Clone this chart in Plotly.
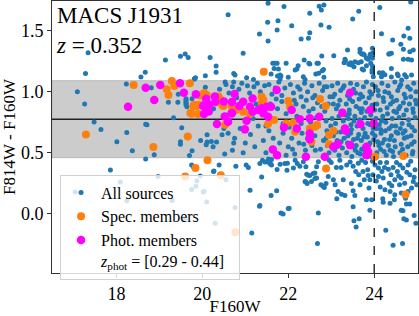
import plotly.graph_objects as go

# ---------------- data ----------------
blue_upper = [
    (20.60,1.63),(17.34,1.32),(19.14,1.26),(19.49,1.29),(19.60,1.31),(19.67,1.28),(20.18,1.28),
    (17.28,1.15),(18.67,1.16),(18.57,1.12),(20.32,1.21),(20.32,1.16),(20.07,1.13),(19.84,1.115),
    (20.73,1.15),(19.81,1.104),(20.95,1.315),(21.53,1.725),(21.90,1.697),(22.72,1.70),(22.83,1.71),
    (24.13,1.69),(24.85,1.735),(21.52,1.569),(21.76,1.582),(22.50,1.643),(22.77,1.67),(23.64,1.66),
    (23.50,1.596),(24.79,1.52),(21.33,1.473),(21.74,1.506),(21.53,1.416),(22.08,1.54),(22.50,1.484),
    (22.95,1.528),(22.76,1.547),(22.30,1.432),(22.47,1.437),(24.17,1.475),(24.69,1.457),(24.43,1.424),
    (24.83,1.437),(24.62,1.389),(21.64,1.233),(21.69,1.233),(21.74,1.233),(21.67,1.19),(21.77,1.186),
    (21.95,1.233),(21.81,1.137),(21.81,1.104),(22.0,1.118),(22.2,1.186),(22.23,1.213),(22.37,1.26),
    (22.5,1.227),(22.67,1.233),(22.64,1.145),(22.83,1.118),(22.82,1.183),(23.06,1.295),(23.33,1.254),
    (23.38,1.342),(23.41,1.225),(23.45,1.238),(23.53,1.205),(23.55,1.246),(23.67,1.323),(23.75,1.309),
    (23.70,1.246),(23.82,1.274),(23.91,1.307),(23.96,1.356),(23.72,1.186),(23.82,1.213),(23.92,1.233),
    (23.95,1.178),(23.95,1.159),(23.98,1.123),(24.12,1.156),(24.2,1.156),(24.17,1.123),(24.35,1.309),
    (24.40,1.315),(24.40,1.19),(24.68,1.266),(24.83,1.328),(24.91,1.342),(24.54,1.145),(24.64,1.096),
    (24.87,1.137),(22.78,1.293),(22.70,1.233),(22.79,1.172),(22.71,1.151),(22.48,1.233),(22.16,1.178),
    (22.35,1.123),(22.39,1.10),(21.60,1.145),(21.75,1.129),(21.83,1.129),(20.76,1.137),(21.03,1.115),
    (21.19,1.10),(23.63,1.238),(23.75,1.178),(23.47,1.219),(23.32,1.266),(23.30,1.238),(24.25,1.14),
    (24.40,1.12),(24.56,1.13),(24.71,1.14),(24.75,1.12),(24.79,1.266),(24.87,1.26),(24.34,1.309),
    (24.68,1.347),(23.96,1.315),(23.96,1.274),(23.96,1.21),(23.71,1.309),(23.77,1.30),(23.86,1.266),
    (23.90,1.293),(23.67,1.347),
]

blue_band_left = [
    (19.44,0.98),(19.62,0.93),(19.62,0.905),(19.64,0.877),(19.62,0.943),(19.62,0.916),(19.62,0.894),
    (19.76,0.943),(19.82,1.107),(20.07,1.036),(20.26,0.861),(20.53,1.08),(20.73,1.08),(20.50,0.70),
    (19.33,0.787),(19.52,0.705),(19.49,0.59),(19.49,0.571),(19.70,0.479),(19.64,0.634),(20.11,0.648),
    (20.46,0.648),(18.71,0.73),(18.68,0.733),(19.21,0.913),(18.81,1.033),(18.23,1.063),(19.43,0.913),
    (18.01,0.59),(18.37,0.516),(18.68,0.45),(18.88,0.484),(17.48,0.752),(17.64,0.69),(18.24,0.667),
    (17.09,1.0),(17.26,0.90),(19.96,0.60),(20.25,0.55),(20.40,1.02),
]

blue_band_right = [
    (20.55,1.06),(20.62,0.99),(20.70,1.04),(20.85,1.02),(20.92,1.07),(20.80,0.95),(21.05,1.05),
    (21.10,0.99),(21.20,1.04),(21.28,1.07),(21.35,1.00),(21.45,1.05),(20.60,0.66),(20.75,0.62),
    (20.88,0.70),(21.00,0.58),(21.12,0.65),(21.22,0.55),(21.30,0.72),(21.42,0.60),(21.48,0.50),
    (20.95,0.50),(21.18,0.78),(21.38,0.93),(20.70,0.52),(21.25,0.90),(21.48,0.72),
    (21.55,1.06),(21.62,0.98),(21.70,1.03),(21.78,1.08),(21.85,0.97),(21.92,1.03),(22.05,1.06),
    (22.12,0.99),(22.22,1.04),(22.30,0.96),(22.38,1.07),(22.45,1.00),(22.55,1.05),(22.62,0.97),
    (22.72,1.07),(22.80,1.01),(22.90,1.04),(22.97,0.96),(21.58,0.90),(21.75,0.86),(21.85,0.92),
    (22.18,0.90),(22.35,0.88),(22.42,0.93),(22.58,0.86),(22.68,0.91),(22.85,0.84),(22.93,0.90),
    (21.55,0.68),(21.65,0.62),(21.80,0.58),(21.88,0.66),(22.00,0.55),(22.08,0.62),(22.25,0.58),
    (22.32,0.66),(22.40,0.52),(22.55,0.56),(22.62,0.64),(22.75,0.53),(22.82,0.60),(22.90,0.68),
    (22.95,0.50),(21.70,0.50),(21.95,0.48),(22.15,0.49),(22.45,0.62),(22.70,0.72),(22.30,0.74),
    (21.62,0.78),(22.88,0.76),(22.20,0.80),(21.95,0.82),
    (23.02,1.05),(23.08,0.98),(23.15,1.07),(23.22,1.01),(23.30,1.05),(23.38,0.97),(23.45,1.07),
    (23.52,1.02),(23.60,1.06),(23.68,0.98),(23.75,1.04),(23.82,1.08),(23.90,1.00),(23.96,1.06),
    (23.05,0.90),(23.12,0.86),(23.20,0.93),(23.35,0.90),(23.42,0.85),(23.50,0.92),(23.58,0.88),
    (23.65,0.94),(23.72,0.86),(23.80,0.91),(23.88,0.95),(23.95,0.89),(23.02,0.78),(23.10,0.74),
    (23.18,0.80),(23.28,0.76),(23.32,0.70),(23.40,0.78),(23.46,0.73),(23.55,0.80),(23.60,0.72),
    (23.66,0.77),(23.74,0.70),(23.78,0.79),(23.85,0.74),(23.92,0.81),(23.98,0.70),(23.05,0.64),
    (23.14,0.60),(23.22,0.67),(23.30,0.62),(23.38,0.58),(23.45,0.66),(23.52,0.61),(23.58,0.56),
    (23.64,0.65),(23.70,0.60),(23.76,0.54),(23.84,0.63),(23.90,0.58),(23.96,0.66),(23.08,0.52),
    (23.18,0.48),(23.26,0.54),(23.36,0.50),(23.48,0.47),(23.56,0.52),(23.68,0.49),(23.80,0.51),
    (23.93,0.47),(23.42,0.82),(23.25,0.84),(23.70,0.83),
    (24.03,1.04),(24.10,0.97),(24.18,1.07),(24.25,1.00),(24.32,1.05),(24.40,0.96),(24.48,1.08),
    (24.55,1.01),(24.62,1.06),(24.70,0.98),(24.78,1.04),(24.85,0.96),(24.92,1.07),(24.97,1.00),
    (24.06,0.90),(24.14,0.85),(24.22,0.92),(24.30,0.87),(24.38,0.90),(24.46,0.84),(24.52,0.93),
    (24.60,0.88),(24.68,0.91),(24.75,0.85),(24.82,0.90),(24.90,0.86),(24.96,0.93),(24.04,0.78),
    (24.12,0.73),(24.20,0.80),(24.27,0.75),(24.35,0.70),(24.42,0.78),(24.50,0.72),(24.58,0.79),
    (24.65,0.74),(24.72,0.68),(24.80,0.77),(24.88,0.71),(24.95,0.79),(24.02,0.64),(24.08,0.59),
    (24.16,0.66),(24.24,0.61),(24.33,0.56),(24.40,0.64),(24.47,0.60),(24.55,0.66),(24.63,0.57),
    (24.70,0.62),(24.78,0.55),(24.86,0.64),(24.93,0.59),(24.06,0.50),(24.15,0.53),(24.28,0.48),
    (24.37,0.52),(24.45,0.47),(24.60,0.50),(24.74,0.48),(24.90,0.51),(24.52,0.83),(24.15,0.69),
]

blue_band_extra = [
    (22.02,0.71),(22.14,0.93),(22.27,1.02),(22.36,0.57),(22.48,0.84),(22.57,0.95),(22.63,0.52),
    (22.78,0.88),(22.84,1.04),(22.91,0.56),(22.99,0.72),(23.04,0.96),(23.11,0.67),(23.16,0.89),
    (23.23,0.59),(23.27,1.03),(23.33,0.81),(23.39,0.64),(23.43,0.94),(23.49,0.55),(23.53,0.76),
    (23.57,0.99),(23.61,0.62),(23.66,0.86),(23.71,0.53),(23.73,0.96),(23.79,0.66),(23.83,0.84),
    (23.87,0.56),(23.91,0.73),(23.94,0.98),(23.99,0.61),(24.01,0.85),(24.05,0.70),(24.09,1.01),
    (24.11,0.56),(24.17,0.76),(24.21,0.95),(24.23,0.51),(24.26,0.68),(24.31,0.82),(24.34,0.99),
    (24.36,0.61),(24.41,0.72),(24.44,0.92),(24.49,0.55),(24.51,0.67),(24.57,0.86),(24.59,1.04),
    (24.61,0.70),(24.66,0.53),(24.69,0.81),(24.73,0.95),(24.77,0.63),(24.81,0.73),(24.84,1.02),
    (24.87,0.57),(24.91,0.83),(24.94,0.68),(24.98,0.90),(23.47,0.69),(23.62,0.50),(23.76,0.63),
    (23.29,0.69),(23.13,0.55),(24.19,0.58),(24.43,0.51),(24.67,0.66),(24.89,0.49),(22.88,0.62),
    (22.52,0.75),(22.10,0.53),(21.88,0.74),(21.72,0.94),(22.66,0.79),
]

blue_lower = [
    (17.86,0.36),(18.97,0.307),(19.76,0.516),(20.11,0.588),(20.09,0.566),(20.21,0.593),(20.33,0.588),
    (20.52,0.49),(20.73,0.58),(20.26,0.348),(19.75,0.40),(19.79,0.385),(19.95,0.31),(17.04,0.18),
    (18.09,0.262),(18.24,0.107),(19.30,0.11),(19.60,-0.04),(19.87,0.27),(19.85,0.227),(19.75,0.20),
    (20.02,0.18),(20.10,0.098),(20.55,0.28),(20.30,-0.076),(20.04,0.186),(20.76,0.052),
    (20.39,0.40),(20.27,0.352),(20.78,0.39),(21.02,0.40),(21.07,0.38),(21.11,0.194),(21.34,0.413),
    (21.40,0.44),(21.50,0.426),(21.61,0.446),(21.57,0.413),(21.61,0.40),(21.74,0.364),(21.81,0.407),
    (21.92,0.413),(21.97,0.358),(21.38,0.303),(21.33,0.062),(21.15,-0.156),(21.83,0.008),(22.0,0.044),
    (21.73,0.19),(21.60,0.15),(22.16,0.44),(22.21,0.413),(22.35,0.426),(22.27,0.39),(22.41,0.385),
    (22.47,0.317),(22.41,0.262),(22.44,0.249),(22.58,0.331),(22.62,0.29),(22.66,0.385),(22.70,0.426),
    (22.70,0.008),(22.68,-0.243),(22.81,0.227),(22.88,0.249),(23.47,0.249),(23.51,0.058),(23.53,-0.057),
    (23.58,-0.107),(23.65,-0.04),(23.90,0.03),(24.27,-0.134),(24.44,-0.256),(24.66,-0.243),(24.63,0.03),
    (24.69,-0.04),(24.75,-0.05),(21.34,0.069),(21.88,0.0),(22.02,0.047),(23.13,0.123),(24.20,0.123),
    (24.21,0.096),(24.37,0.087),(24.47,0.115),(24.73,0.129),(24.75,0.08),(24.83,0.08),(24.67,0.025),
    (24.93,-0.013),(24.97,-0.076),(21.46,0.424),(21.54,0.45),(21.58,0.415),(21.98,0.415),(22.12,0.375),
    (22.43,0.325),(22.50,0.315),(22.62,0.334),(22.39,0.265),(22.54,0.265),(22.66,0.293),(22.76,0.238),
    (22.84,0.216),(22.93,0.307),(23.05,0.279),(23.09,0.238),(23.23,0.38),(23.28,0.279),(23.16,0.183),
    (23.24,0.161),(23.32,0.151),(23.51,0.189),(23.55,0.151),(23.44,0.424),(23.51,0.389),(23.57,0.348),
    (23.63,0.415),(23.64,0.32),(23.74,0.348),(23.77,0.279),(23.85,0.361),(23.86,0.315),(23.90,0.279),
    (23.67,0.238),(23.88,0.211),(23.82,0.115),(23.94,0.115),(23.00,0.42),(23.12,0.38),(23.20,0.44),
    (23.36,0.40),(22.95,0.44),
    (24.02,0.40),(24.10,0.375),(24.18,0.348),(24.10,0.307),(24.21,0.293),(24.29,0.42),(24.33,0.366),
    (24.39,0.32),(24.44,0.38),(24.48,0.279),(24.54,0.348),(24.59,0.238),(24.63,0.293),(24.67,0.375),
    (24.71,0.251),(24.79,0.40),(24.83,0.32),(24.87,0.211),(24.91,0.265),(24.95,0.361),(24.99,0.238),
    (24.25,0.197),(24.37,0.184),(24.48,0.156),(24.63,0.17),(24.71,0.151),(24.79,0.184),
    (23.71,0.44),(23.96,0.43),(24.05,0.27),(24.14,0.42),(24.24,0.38),(24.35,0.25),(24.52,0.42),
    (24.57,0.31),(24.76,0.34),(24.85,0.43),(24.93,0.30),(24.14,0.22),(24.41,0.23),(23.97,0.32),
    (23.80,0.42),(24.60,0.40),
]

spec_members = [
    (17.29,0.65),(18.40,1.055),(18.86,0.547),(19.29,1.088),(19.17,1.02),(19.35,1.047),(19.21,0.973),
    (19.71,1.069),(19.79,0.883),(19.87,0.883),(19.75,0.82),(19.66,0.634),(20.04,0.99),(19.95,0.97),
    (19.92,0.894),(19.81,0.894),(19.72,0.825),(19.90,0.817),(20.38,0.962),(20.46,0.894),(20.53,0.73),
    (20.10,0.973),(20.43,0.932),(20.49,0.883),(20.68,0.883),(20.78,0.85),(20.95,0.836),(21.11,0.817),
    (21.38,0.959),(21.42,0.932),(21.38,0.905),(21.44,0.864),(21.53,0.735),(21.67,0.768),(22.0,0.924),
    (22.04,0.877),(22.12,0.746),(22.16,0.672),(21.95,0.741),(22.50,0.70),(22.62,0.713),(22.67,0.727),
    (22.54,0.59),(22.74,0.94),(22.87,0.883),(22.95,0.645),(23.05,0.68),(22.95,0.571),(21.43,1.164),
    (20.12,0.44),(20.43,0.317),(19.84,0.375),(19.60,0.307),(22.88,0.372),(24.73,0.159),(24.68,0.473),
    (24.02,0.467),(20.77,-0.15),
]

phot_members = [
    (18.27,0.877),(18.68,1.033),(18.88,0.932),(19.02,1.055),(19.48,1.069),(19.57,0.992),(19.85,0.979),
    (20.02,0.883),(20.04,0.817),(20.14,0.877),(20.09,0.943),(20.06,0.894),(20.16,0.894),(20.30,0.916),
    (20.15,0.839),(20.29,0.962),(20.50,0.921),(20.69,0.916),(20.69,0.825),(20.52,0.798),(20.34,0.735),
    (20.60,0.754),(20.68,0.823),(20.75,0.981),(20.86,0.883),(20.95,0.918),(21.11,0.877),(21.17,0.836),
    (21.30,0.85),(21.38,0.864),(21.50,0.877),(21.60,0.877),(21.42,0.823),(21.53,0.795),(21.17,0.945),
    (21.03,0.762),(20.99,0.692),(21.73,1.014),(22.08,0.85),(21.90,0.708),(22.20,0.70),(22.27,0.774),
    (22.50,0.782),(22.72,0.795),(22.50,0.659),(22.50,0.612),(23.26,0.828),(23.32,0.70),(23.34,0.68),
    (23.44,0.992),(23.44,0.563),(23.05,0.549),(23.15,0.571),(23.68,0.735),(23.91,0.85),(23.99,0.741),
    (23.82,0.549),(23.86,0.508),(23.82,0.481),(22.85,0.467),(22.41,0.467),(21.74,0.481),(21.64,0.528),
]

band_low, band_high = 0.46, 1.09
mean_colour = 0.775
mag_limit = 24.0
x_range = [16.5, 25.02]
y_range = [-0.484, 1.743]
x_ticks = [18, 20, 22, 24]
y_ticks = [0.0, 0.5, 1.0, 1.5]

# ---------------- figure ----------------
blue_all = blue_upper + blue_band_left + blue_band_right + blue_band_extra + blue_lower
FONT = "Liberation Serif"

fig = go.Figure()
fig.add_trace(go.Scatter(
    x=[p[0] for p in blue_all], y=[p[1] for p in blue_all], mode="markers",
    name="All sources", marker=dict(color="#1f77b4", size=5, line=dict(width=0))))
fig.add_trace(go.Scatter(
    x=[p[0] for p in spec_members], y=[p[1] for p in spec_members], mode="markers",
    name="Spec. members", marker=dict(color="#ff7f0e", size=8, line=dict(width=0))))
fig.add_trace(go.Scatter(
    x=[p[0] for p in phot_members], y=[p[1] for p in phot_members], mode="markers",
    name="Phot. members<br><i>z</i><sub>phot</sub> = [0.29 - 0.44]&nbsp;&nbsp;",
    marker=dict(color="#ff00ff", size=8.5, line=dict(width=0))))

fig.add_shape(type="rect", xref="paper", yref="y", x0=0, x1=1, y0=band_low, y1=band_high,
              fillcolor="#cccccc", line=dict(color="#b8b8b8", width=1), layer="below")
fig.add_shape(type="line", xref="paper", yref="y", x0=0, x1=1, y0=mean_colour, y1=mean_colour,
              line=dict(color="#222222", width=1.3), layer="below")
fig.add_shape(type="line", xref="x", yref="paper", x0=mag_limit, x1=mag_limit, y0=0, y1=1,
              line=dict(color="black", width=1.2, dash="dash"))

fig.add_annotation(xref="paper", yref="paper", x=0.005, y=1.0, xanchor="left", yanchor="top",
                   text="MACS J1931<br><i>z</i> = 0.352", showarrow=False, align="left",
                   font=dict(family=FONT, size=23, color="black"))

axis_common = dict(showline=True, linecolor="#333333", linewidth=1, mirror=True,
                   ticks="outside", ticklen=4, tickcolor="#333333", showgrid=False,
                   zeroline=False, automargin=False,
                   tickfont=dict(family=FONT, size=18, color="black"))
fig.update_xaxes(range=x_range, tickvals=x_ticks,
                 title=dict(text="F160W", font=dict(family=FONT, size=17, color="black"), standoff=4),
                 **axis_common)
fig.update_yaxes(range=y_range, tickvals=y_ticks, tickformat=".1f",
                 title=dict(text="F814W - F160W", font=dict(family=FONT, size=17, color="black"), standoff=6),
                 **axis_common)

fig.update_layout(
    width=419, height=316, margin=dict(l=52, r=1, t=1, b=43),
    paper_bgcolor="white", plot_bgcolor="white",
    font=dict(family=FONT, color="black"),
    legend=dict(x=0.022, y=0.362, xanchor="left", yanchor="top",
                bgcolor="rgba(255,255,255,0.8)", bordercolor="#d0d0d0", borderwidth=1,
                font=dict(family=FONT, size=16, color="black"), valign="top",
                itemwidth=30, tracegroupgap=0),
    showlegend=True,
)

fig.write_html("out.html", config={"displayModeBar": False},
               post_script="document.body.style.margin='0';")
